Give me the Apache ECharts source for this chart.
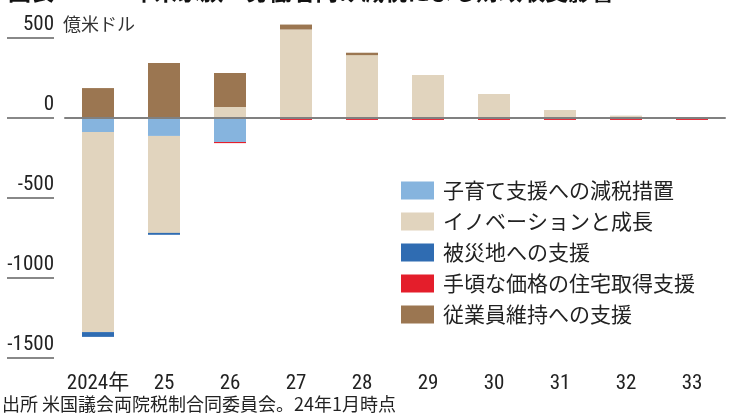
<!DOCTYPE html>
<html>
<head>
<meta charset="utf-8">
<script src="https://cdn.jsdelivr.net/npm/echarts@6/dist/echarts.min.js"></script>
<style>
  html, body { margin: 0; padding: 0; background: #fff; }
  #main { width: 732px; height: 416px; }
</style>
</head>
<body>
<div id="main"></div>
<script>
var myChart = echarts.init(document.getElementById('main'));

// x軸ラベル
var years = ['2024年', '25', '26', '27', '28', '29', '30', '31', '32', '33'];

// y軸の目盛り
var yTicks = [500, 0, -500, -1000, -1500];

// 系列名
var names = ['子育て支援への減税措置', 'イノベーションと成長', '被災地への支援', '手頃な価格の住宅取得支援', '従業員維持への支援'];

// 各系列の値（億米ドル）
var childCredit = [-88, -112, -150, 0, 0, 0, 0, 0, 0, 0];
var innovation = [-1250, -606, 69, 553, 393, 268, 150, 50, 15, 0];
var disaster = [-30, -12, 0, 0, 0, 0, 0, 0, 0, 0];
var housing = [0, 0, -7, -12, -12, -12, -12, -12, -12, -12];
var retention = [187, 344, 212, 31, 15, 0, 0, 0, 0, 0];

var colors = ['#86b4de', '#e1d4be', '#2f6cb2', '#e41e2b', '#9b7651'];

var numFont = '"Roboto Condensed", "Noto Sans CJK JP", sans-serif';
var jpFont = '"Noto Sans CJK JP", sans-serif';

var seriesData = [childCredit, innovation, disaster, housing, retention];
var series = seriesData.map(function (d, i) {
  var s = {
    name: names[i],
    type: 'bar',
    stack: 'total',
    barWidth: 32,
    clip: false,
    data: d,
    itemStyle: { color: colors[i] }
  };
  if (i === 0) {
    // 0の線
    s.markLine = {
      silent: true,
      symbol: 'none',
      label: { show: false },
      lineStyle: { color: '#808080', width: 2, type: 'solid' },
      data: [{ yAxis: 0 }],
      z: 10
    };
  }
  return s;
});

var option = {
  animation: false,
  grid: { left: 65, right: 7, top: 38, bottom: 58 },
  legend: {
    orient: 'vertical',
    left: 396,
    top: 175,
    icon: 'rect',
    itemWidth: 33,
    itemHeight: 18,
    itemGap: 10,
    data: names,
    textStyle: { fontFamily: jpFont, fontSize: 21, color: '#222', padding: [0, 0, 0, 4] }
  },
  xAxis: {
    type: 'category',
    data: years,
    axisLine: { lineStyle: { color: '#808080', width: 2 } },
    axisTick: { alignWithLabel: true, length: 7, lineStyle: { color: '#555', width: 1.5 } },
    axisLabel: { interval: 0, fontFamily: numFont, fontSize: 21, color: '#222', margin: 15, verticalAlign: 'top' }
  },
  yAxis: {
    type: 'value',
    min: yTicks[yTicks.length - 1],
    max: yTicks[0],
    interval: 500,
    offset: 10,
    axisLine: { show: false },
    axisTick: { show: false },
    // ラベルの下に短い線（リッチテキストで描く）
    axisLabel: {
      margin: 1,
      align: 'right',
      verticalAlign: 'bottom',
      padding: [0, 0, -1, 0],
      formatter: function (v) { return '{a|' + v + '}\n{u| }'; },
      rich: {
        a: { fontFamily: numFont, fontSize: 21, color: '#222', lineHeight: 25, align: 'right' },
        u: { width: 47, height: 2, lineHeight: 2, fontSize: 2, backgroundColor: '#888', align: 'right' }
      }
    },
    splitLine: { show: false }
  },
  graphic: [
    {
      type: 'text', left: 8, top: -20,
      style: { text: '図表：2024年米家族・労働者向け減税による財政収支影響', font: 'bold 23px ' + jpFont, fill: '#111' }
    },
    {
      type: 'text', left: 63, top: 15,
      style: { text: '億米ドル', font: '18px ' + jpFont, fill: '#333' }
    },
    {
      type: 'text', left: 2, top: 395,
      style: { text: '出所 米国議会両院税制合同委員会。24年1月時点', font: '18px ' + jpFont, fill: '#222' }
    }
  ],
  series: series
};

myChart.setOption(option);
</script>
</body>
</html>
